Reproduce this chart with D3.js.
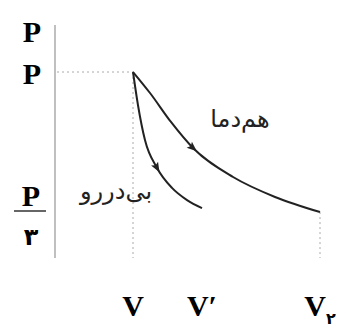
<!DOCTYPE html>
<html>
<head>
<meta charset="utf-8">
<script src="https://cdn.jsdelivr.net/npm/d3@7"></script>
<style>
  body { margin: 0; background: #fff; }
  svg { display: block; }
</style>
</head>
<body>
<div id="chart"></div>
<script>
'use strict'

// isothermal curve (V, P), V and P in units of V1, P1
const isoV = [1, 1.182, 1.406, 1.642, 2.07, 2.519, 3.0]
const isoP = [1, 0.9, 0.762, 0.638, 0.5, 0.405, 0.333]

// adiabatic curve
const adiV = [1, 1.053, 1.128, 1.257, 1.417, 1.578, 1.738]
const adiP = [1, 0.843, 0.676, 0.543, 0.448, 0.39, 0.352]

const xTickValues = [1, 1.738, 3]
const xTickLabels = ['V', 'V\u2032', 'V']
const xTickSubs = ['', '', '\u06F2']

const curveLabels = ['هم‌دما', 'بی‌دررو']

const svgWidth = 347
const svgHeight = 329

const svg = d3.select('#chart')
    .append('svg')
    .attr('width', svgWidth)
    .attr('height', svgHeight)

const x = d3.scaleLinear().domain([1, 3]).range([133, 320])
const y = d3.scaleLinear().domain([0, 1]).range([282, 72])

const axisX = 55
const axisTop = 25
const axisBottom = 258

// vertical P axis
svg.append('line')
    .attr('x1', axisX).attr('x2', axisX)
    .attr('y1', axisTop).attr('y2', axisBottom)
    .attr('stroke', '#b0b0b0')
    .attr('stroke-width', 1.6)

// dotted guides
const guide = svg.append('g')
    .attr('stroke', '#aaa')
    .attr('stroke-width', 1)
    .attr('stroke-dasharray', '2,3')

guide.append('line')
    .attr('x1', axisX + 2).attr('x2', x(1))
    .attr('y1', y(1)).attr('y2', y(1))
guide.append('line')
    .attr('x1', x(1)).attr('x2', x(1))
    .attr('y1', y(1)).attr('y2', axisBottom)
guide.append('line')
    .attr('x1', x(3)).attr('x2', x(3))
    .attr('y1', y(isoP[isoP.length - 1])).attr('y2', axisBottom)

// curves
const line = d3.line()
    .x(d => x(d[0]))
    .y(d => y(d[1]))
    .curve(d3.curveMonotoneX)

const iso = isoV.map((v, i) => [v, isoP[i]])
const adi = adiV.map((v, i) => [v, adiP[i]])

svg.selectAll('.curve')
    .data([iso, adi])
    .join('path')
    .attr('class', 'curve')
    .attr('d', line)
    .attr('fill', 'none')
    .attr('stroke', '#222')
    .attr('stroke-width', 2)

// arrowheads along the curves
function arrow(pts, i) {
    const a = pts[i - 1], b = pts[i + 1], p = pts[i]
    const ang = Math.atan2(y(b[1]) - y(a[1]), x(b[0]) - x(a[0])) * 180 / Math.PI
    svg.append('path')
        .attr('d', 'M5,0 L-5,-4 L-3,0 L-5,4 Z')
        .attr('fill', '#222')
        .attr('transform', `translate(${x(p[0])},${y(p[1])}) rotate(${ang})`)
}
arrow(iso, 3)
arrow(adi, 3)

// y labels
const serif = '"Liberation Serif", "DejaVu Serif", serif'
svg.append('text')
    .attr('x', 32).attr('y', 42)
    .attr('text-anchor', 'middle')
    .attr('font-family', serif).attr('font-weight', 'bold').attr('font-size', 30)
    .text('P')
svg.append('text')
    .attr('x', 32).attr('y', y(1) + 12)
    .attr('text-anchor', 'middle')
    .attr('font-family', serif).attr('font-weight', 'bold').attr('font-size', 30)
    .text('P')

// P/3 fraction
const fy = y(1 / 3)
svg.append('text')
    .attr('x', 31).attr('y', fy - 6)
    .attr('text-anchor', 'middle')
    .attr('font-family', serif).attr('font-weight', 'bold').attr('font-size', 30)
    .text('P')
svg.append('line')
    .attr('x1', 14).attr('x2', 46)
    .attr('y1', fy - 1).attr('y2', fy - 1)
    .attr('stroke', '#333').attr('stroke-width', 1.5)
svg.append('text')
    .attr('x', 31).attr('y', fy + 33)
    .attr('text-anchor', 'middle')
    .attr('font-family', '"DejaVu Sans", sans-serif').attr('font-weight', 'bold').attr('font-size', 24)
    .text('\u06F3')

// x labels
const xl = svg.selectAll('.xl')
    .data(xTickValues)
    .join('text')
    .attr('class', 'xl')
    .attr('x', d => x(d))
    .attr('y', 316)
    .attr('text-anchor', 'middle')
    .attr('font-family', serif).attr('font-weight', 'bold').attr('font-size', 30)

xl.append('tspan').text((d, i) => xTickLabels[i])
xl.append('tspan')
    .attr('font-family', '"DejaVu Sans", sans-serif')
    .attr('font-size', 16)
    .attr('dy', 8)
    .text((d, i) => xTickSubs[i])

// curve names
svg.append('text')
    .attr('x', 240).attr('y', 127)
    .attr('text-anchor', 'middle')
    .attr('direction', 'rtl')
    .attr('font-family', '"DejaVu Sans", sans-serif').attr('font-size', 24)
    .attr('fill', '#222')
    .text(curveLabels[0])
svg.append('text')
    .attr('x', 116).attr('y', 199)
    .attr('text-anchor', 'middle')
    .attr('direction', 'rtl')
    .attr('font-family', '"DejaVu Sans", sans-serif').attr('font-size', 24)
    .attr('fill', '#222')
    .text(curveLabels[1])
</script>
</body>
</html>
